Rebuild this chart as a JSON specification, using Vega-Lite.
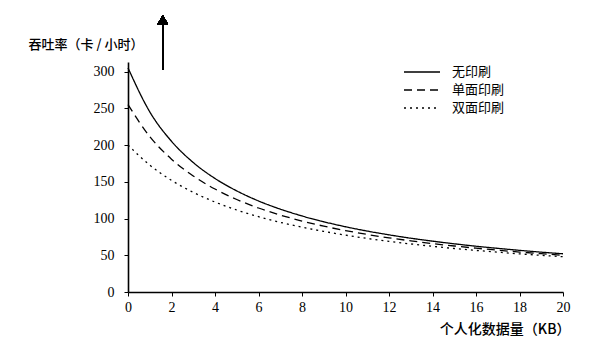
{
  "$schema": "https://vega.github.io/schema/vega-lite/v6.json",
  "autosize": "none",
  "width": 435,
  "height": 230,
  "padding": {"left": 128, "top": 62, "right": 37, "bottom": 65},
  "background": "white",
  "config": {
    "view": {"stroke": null},
    "axis": {
      "domainColor": "black", "tickColor": "black", "labelColor": "black", "titleColor": "black", "grid": false,
      "labelFont": "Times New Roman, Liberation Serif, serif", "labelFontSize": 14, "labelOverlap": false, "tickSize": 4,
      "titleFont": "Noto Sans CJK SC", "titleFontWeight": 500
    },
    "axisX": {"labelPadding": 4, "domainWidth": 1.3, "labelFlush": false, "titleFontSize": 14},
    "axisY": {"labelPadding": 10, "domainWidth": 1.6, "titleFontSize": 13}
  },
  "data": {
    "values": [
      {"x": 0, "s": "无印刷", "v": 305}, {"x": 1, "s": "无印刷", "v": 245.2}, {"x": 2, "s": "无印刷", "v": 205.1}, {"x": 3, "s": "无印刷", "v": 176.2}, {"x": 4, "s": "无印刷", "v": 154.5}, {"x": 5, "s": "无印刷", "v": 137.6}, {"x": 6, "s": "无印刷", "v": 123.9}, {"x": 7, "s": "无印刷", "v": 112.8}, {"x": 8, "s": "无印刷", "v": 103.5}, {"x": 9, "s": "无印刷", "v": 95.6}, {"x": 10, "s": "无印刷", "v": 88.8}, {"x": 11, "s": "无印刷", "v": 82.9}, {"x": 12, "s": "无印刷", "v": 77.8}, {"x": 13, "s": "无印刷", "v": 73.2}, {"x": 14, "s": "无印刷", "v": 69.2}, {"x": 15, "s": "无印刷", "v": 65.6}, {"x": 16, "s": "无印刷", "v": 62.3}, {"x": 17, "s": "无印刷", "v": 59.4}, {"x": 18, "s": "无印刷", "v": 56.7}, {"x": 19, "s": "无印刷", "v": 54.2}, {"x": 20, "s": "无印刷", "v": 52.0},
      {"x": 0, "s": "单面印刷", "v": 255}, {"x": 1, "s": "单面印刷", "v": 211.6}, {"x": 2, "s": "单面印刷", "v": 180.8}, {"x": 3, "s": "单面印刷", "v": 157.9}, {"x": 4, "s": "单面印刷", "v": 140.1}, {"x": 5, "s": "单面印刷", "v": 125.9}, {"x": 6, "s": "单面印刷", "v": 114.3}, {"x": 7, "s": "单面印刷", "v": 104.7}, {"x": 8, "s": "单面印刷", "v": 96.6}, {"x": 9, "s": "单面印刷", "v": 89.6}, {"x": 10, "s": "单面印刷", "v": 83.6}, {"x": 11, "s": "单面印刷", "v": 78.3}, {"x": 12, "s": "单面印刷", "v": 73.7}, {"x": 13, "s": "单面印刷", "v": 69.6}, {"x": 14, "s": "单面印刷", "v": 65.9}, {"x": 15, "s": "单面印刷", "v": 62.6}, {"x": 16, "s": "单面印刷", "v": 59.6}, {"x": 17, "s": "单面印刷", "v": 56.9}, {"x": 18, "s": "单面印刷", "v": 54.4}, {"x": 19, "s": "单面印刷", "v": 52.1}, {"x": 20, "s": "单面印刷", "v": 50.0},
      {"x": 0, "s": "双面印刷", "v": 200}, {"x": 1, "s": "双面印刷", "v": 172.7}, {"x": 2, "s": "双面印刷", "v": 151.9}, {"x": 3, "s": "双面印刷", "v": 135.6}, {"x": 4, "s": "双面印刷", "v": 122.4}, {"x": 5, "s": "双面印刷", "v": 111.6}, {"x": 6, "s": "双面印刷", "v": 102.5}, {"x": 7, "s": "双面印刷", "v": 94.8}, {"x": 8, "s": "双面印刷", "v": 88.2}, {"x": 9, "s": "双面印刷", "v": 82.5}, {"x": 10, "s": "双面印刷", "v": 77.4}, {"x": 11, "s": "双面印刷", "v": 72.9}, {"x": 12, "s": "双面印刷", "v": 68.9}, {"x": 13, "s": "双面印刷", "v": 65.4}, {"x": 14, "s": "双面印刷", "v": 62.2}, {"x": 15, "s": "双面印刷", "v": 59.2}, {"x": 16, "s": "双面印刷", "v": 56.6}, {"x": 17, "s": "双面印刷", "v": 54.2}, {"x": 18, "s": "双面印刷", "v": 51.9}, {"x": 19, "s": "双面印刷", "v": 49.9}, {"x": 20, "s": "双面印刷", "v": 48.0}
    ]
  },
  "encoding": {
    "x": {
      "type": "quantitative",
      "scale": {"domain": [0, 20], "nice": false, "zero": false},
      "axis": {
        "values": [0, 2, 4, 6, 8, 10, 12, 14, 16, 18, 20],
        "title": "个人化数据量（KB）",
        "titleAnchor": "end", "titleAlign": "right", "titleX": 442, "titleY": 30
      }
    },
    "y": {
      "type": "quantitative",
      "scale": {"domain": [0, 313], "nice": false},
      "axis": {
        "values": [0, 50, 100, 150, 200, 250, 300],
        "title": "吞吐率（卡 / 小时）",
        "titleAngle": 0, "titleAlign": "left", "titleBaseline": "middle",
        "titleX": -100, "titleY": -18
      }
    }
  },
  "layer": [
    {
      "mark": {"type": "line", "stroke": "black", "strokeWidth": 1.3, "interpolate": "monotone"},
      "encoding": {
        "x": {"field": "x", "type": "quantitative"},
        "y": {"field": "v", "type": "quantitative"},
        "strokeDash": {
          "field": "s", "type": "nominal",
          "scale": {"domain": ["无印刷", "单面印刷", "双面印刷"], "range": [[1, 0], [8, 5], [2, 4]]},
          "legend": {
            "title": null, "orient": "none", "legendX": 284, "legendY": 0,
            "symbolType": "M-2,0H2", "symbolSize": 324, "symbolStrokeWidth": 1.3,
            "symbolStrokeColor": "black", "symbolFillColor": "transparent",
            "labelFont": "Noto Sans CJK SC", "labelFontSize": 13, "labelColor": "black",
            "labelOffset": 20, "rowPadding": 1
          }
        }
      }
    },
    {
      "mark": {"type": "rule", "stroke": "black", "strokeWidth": 1.5},
      "encoding": {"x": {"datum": 1.6}, "y": {"datum": 303}, "y2": {"datum": 372}}
    },
    {
      "mark": {"type": "point", "shape": "triangle-up", "filled": true, "fill": "black", "stroke": "black", "size": 50, "opacity": 1},
      "encoding": {"x": {"datum": 1.6}, "y": {"datum": 370}}
    }
  ]
}
